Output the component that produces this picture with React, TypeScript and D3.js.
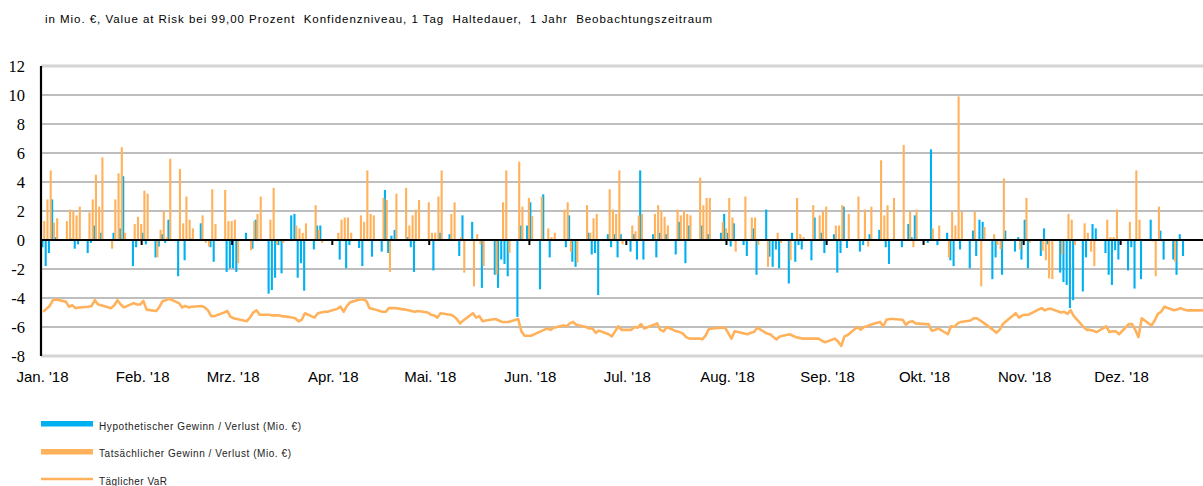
import * as d3 from "d3";
import { useEffect, useRef } from "react";

const TITLE =
  "in Mio. €, Value at Risk bei 99,00 Prozent  Konfidenzniveau, 1 Tag  Haltedauer,  1 Jahr  Beobachtungszeitraum";

const MONTH_LABELS = [
  "Jan. '18", "Feb. '18", "Mrz. '18", "Apr. '18", "Mai. '18", "Jun. '18",
  "Jul. '18", "Aug. '18", "Sep. '18", "Okt. '18", "Nov. '18", "Dez. '18",
];

const Y_TICKS = [-8, -6, -4, -2, 0, 2, 4, 6, 8, 10, 12];

const LEGEND = [
  "Hypothetischer Gewinn / Verlust (Mio. €)",
  "Tatsächlicher Gewinn / Verlust (Mio. €)",
  "Täglicher VaR",
];

// one value per weekday (Mon-Fri) of each month in 2018
const HYPOTHETICAL: number[][] = [
  [-0.5, -1.8, -0.9, 2.8, 0.2, 0, 0, 0.1, -0.6, -0.3, -0.9, -0.2, 1.0, 0, 0.5, 0, 0.5, 0, 0.8, 4.4, -1.8, -0.5, 0],
  [0.5, -0.3, -1.2, -0.45, 0.4, -0.2, 1.4, -2.5, 0, -1.4, 0, 0.1, 1.15, 0, 0, -0.5, -1.5, 0, -2.2, -1.95],
  [-1.95, -2.2, 0.5, 0, -0.6, 1.4, 0, -3.7, -3.45, -2.6, -0.35, -2.3, 1.7, 1.8, -2.6, -1.6, -3.5, -0.65, 1.0, 1.0, 0, 0],
  [0, -1.35, 0, -1.95, -0.35, -0.55, -1.8, 0, 0, -1.15, -0.8, 3.45, -0.9, 0.3, 0.7, 0, 0.2, -0.5, -2.2, 0, 0],
  [0, -2.1, 0, 0.5, 0.4, 0, 0, -1.1, 1.7, 1.25, 0, 0, -3.3, 0, -2.4, -3.3, -1.35, -1.65, -2.5, -5.3, 1.0, 0, 1.0],
  [2.6, -3.4, 3.15, 0, -1.2, 0, 0, -0.5, 1.7, -1.5, -1.85, 0, 0.5, -1.0, -0.9, -3.8, 0.4, -0.5, 0.4, -1.2, 0.4],
  [-0.8, 0.4, -1.35, 4.8, -1.35, 0.4, -1.2, 0.5, 0, 0.4, -1.0, 1.25, 0, -1.6, 1.0, 0, 1.0, 0, 0.4, 0, 0.5, 1.8],
  [0.5, -0.45, 1.15, -0.35, -1.1, 0, 0.8, -2.4, 2.1, -1.15, -1.85, -0.65, -1.95, -3.0, 0.5, -1.5, -0.35, -0.65, -1.4, 1.55, 0, 0.5, -0.9],
  [0.4, -2.25, -0.9, 2.3, -0.55, 0, -0.8, -0.35, 0, 0.4, 0.7, 0, -0.5, -1.65, 0, -0.5, 0, 1.1, 0.2, 1.7],
  [0, -0.2, 6.25, 0, -0.35, 0.5, -1.4, -1.8, 0, -0.65, -1.95, 0.65, -1.1, 1.4, 1.25, -2.7, -1.2, 0, -2.4, 0.65, -0.8, 0.2, -1.35],
  [1.4, -1.95, 0, -1.1, 0.8, -0.3, 0, -2.25, -2.9, -3.1, -4.7, -4.15, -3.55, -1.2, 0, 1.1, 0.8, -0.9, -2.4, -3.1, -0.7, -1.35],
  [-2.1, -0.5, -3.35, 0, -2.7, 1.4, 0, 0, 0.65, -1.35, -1.35, -2.4, 0.4, -1.1, 0, 0, 0, 0, 0, 0, 0],
];

const ACTUAL: number[][] = [
  [1.3, 2.8, 4.8, 1.2, 1.5, 1.3, 2.1, 2.0, 1.7, 2.3, 1.9, 2.8, 4.5, 2.3, 5.7, -0.6, 2.8, 4.6, 6.4, 0.5, 1.1, 1.6, 1.1],
  [3.4, 3.2, -1.2, 0.7, 2.0, 0.2, 5.6, 4.9, 1.15, 3.0, 1.4, 0.8, 1.7, -0.2, -0.45, 3.5, 1.1, 3.45, 1.3, 1.3],
  [1.4, -1.6, 0, -0.7, 1.3, 1.8, 3.0, 1.4, 3.6, -0.3, 0, -0.2, 0, 1.0, 0.8, 0.5, 1.15, 2.4, 0.7, -0.2, 0, 0],
  [0.5, 1.4, 1.55, 1.55, 0.5, 1.7, 1.25, 4.8, 1.8, 1.7, 2.9, 2.75, -2.2, 0, 3.2, 3.6, 1.0, 1.7, 2.1, 2.75, 2.6],
  [0.5, 0.5, 3.0, 4.8, 1.8, 2.6, 0, 0.2, -2.25, -3.2, 0.4, -0.3, -1.8, 0, -2.4, 0, 2.6, 4.8, -0.9, 5.4, 2.3, 0, 2.9],
  [1.65, 3.0, 0, 0.8, 0.2, 0.5, 2.1, 2.6, -0.8, 0, -1.55, 2.4, 0.5, 1.5, 1.8, 0, 3.5, 2.1, 1.8, 4.8, -0.3],
  [1.0, 0.6, 1.7, 1.8, 0, 1.8, 2.4, 2.0, 1.6, 1.0, 2.1, 1.7, 2.0, 1.8, 1.7, 4.3, 2.4, 2.9, 2.9, 0, 1.25, 0.8],
  [2.9, 1.55, -0.8, 3.0, 0, 1.55, 1.55, -0.35, -1.85, 0, 0, 0.5, -0.2, -1.4, 0, 2.9, 0.4, 0.2, 2.4, 0, 1.7, 1.95, 2.3],
  [1.0, 1.0, 2.4, 0, 1.8, 3.0, 0, 2.1, -0.45, 2.3, 5.5, 1.7, 2.4, 0, 2.9, 6.55, 0, 1.95, -0.5, 2.1],
  [0, 0, 0.8, 0, 1.0, -1.2, 1.95, 1.0, 9.9, 1.95, 0, 1.95, 0, -3.2, 0.9, 0.4, -0.35, -0.65, 4.25, 0, 0, -0.65, 0],
  [2.9, -0.2, 0, -0.75, -1.4, -2.65, -2.7, -1.0, 0, 1.8, 1.4, -0.35, 1.15, 0.5, -0.8, -1.8, 0, 1.4, 0.2, 0.2, 2.1, 0],
  [1.25, 0, 4.8, 1.4, 0, -0.1, -2.5, 2.3, -0.1, 0, -1.5, 0, 0, 0, 0, 0, 0, 0, 0, 0, 0],
];

const DAILY_VAR: number[][] = [
  [-4.95, -4.75, -4.55, -4.15, -4.1, -4.25, -4.6, -4.5, -4.7, -4.65, -4.6, -4.55, -4.15, -4.45, -4.5, -4.7, -4.5, -4.15, -4.45, -4.65, -4.35, -4.45, -4.45],
  [-4.2, -4.8, -4.9, -4.6, -4.2, -4.15, -4.05, -4.35, -4.65, -4.55, -4.65, -4.6, -4.55, -4.65, -4.85, -5.25, -5.25, -5.0, -4.9, -5.3],
  [-5.4, -5.45, -5.6, -5.35, -5.0, -4.85, -5.15, -5.15, -5.2, -5.2, -5.2, -5.25, -5.35, -5.4, -5.6, -5.5, -5.05, -5.35, -5.05, -5.0, -4.95, -4.95],
  [-4.75, -4.6, -4.95, -4.55, -4.3, -4.1, -4.1, -4.2, -4.7, -4.75, -4.95, -4.95, -4.7, -4.7, -4.7, -4.8, -4.85, -4.9, -4.95, -4.9, -5.0],
  [-5.15, -5.2, -5.35, -5.05, -5.15, -5.25, -5.45, -5.75, -5.55, -5.05, -5.35, -5.25, -5.6, -5.55, -5.45, -5.55, -5.65, -5.65, -5.65, -5.45, -6.3, -6.6, -6.6],
  [-6.6, -6.3, -6.2, -6.1, -6.2, -6.05, -5.9, -5.95, -5.75, -5.65, -5.85, -6.0, -6.1, -6.1, -6.4, -6.25, -6.5, -6.65, -6.3, -5.95, -6.2],
  [-6.2, -6.0, -6.05, -5.8, -6.1, -5.85, -5.75, -6.2, -6.3, -6.0, -6.3, -6.35, -6.45, -6.7, -6.8, -6.8, -6.85, -6.6, -6.15, -6.1, -6.05, -6.05],
  [-6.4, -6.8, -6.3, -6.45, -6.5, -6.4, -6.35, -6.05, -6.45, -6.5, -6.7, -6.85, -6.65, -6.5, -6.6, -6.7, -6.75, -6.8, -6.8, -6.8, -6.8, -6.95, -7.05],
  [-6.8, -7.0, -7.3, -6.65, -6.55, -6.0, -6.2, -6.0, -5.95, -5.85, -5.65, -5.95, -5.5, -5.45, -5.45, -5.5, -5.85, -5.65, -5.6, -5.75],
  [-5.8, -5.8, -6.25, -6.2, -6.1, -6.5, -5.95, -6.0, -5.75, -5.65, -5.55, -5.4, -5.4, -5.55, -5.7, -6.2, -6.4, -6.2, -5.8, -5.6, -5.05, -5.35, -5.2],
  [-5.15, -5.15, -4.8, -4.7, -4.85, -4.75, -4.75, -5.0, -4.95, -5.1, -4.85, -5.25, -6.0, -6.2, -6.2, -6.25, -6.35, -5.95, -6.35, -6.3, -6.3, -6.5],
  [-5.8, -5.8, -6.2, -6.7, -5.4, -5.9, -5.55, -5.1, -4.95, -4.6, -4.85, -4.8, -4.7, -4.8, -4.85, -4.85, -4.85, -4.85, -4.85, -4.85, -4.85],
];

const BLUE = "#00B0F0";
const ORANGE = "#FFB25B";

interface Day {
  date: Date;
  hypo: number;
  actual: number;
  risk: number;
}

export default function App() {
  const svgRef = useRef<SVGSVGElement>(null);
  const width = 1203;
  const height = 486;

  useEffect(() => {
    if (!svgRef.current) return;
    const svg = d3.select(svgRef.current);
    svg.selectAll("*").remove();

    // weekdays of 2018, paired with the monthly value lists
    const start = new Date(2018, 0, 1);
    const end = new Date(2019, 0, 1);
    const counter = new Array(12).fill(0);
    const days: Day[] = d3
      .timeDay.range(start, end)
      .filter((d) => d.getDay() !== 0 && d.getDay() !== 6)
      .map((date) => {
        const m = date.getMonth();
        const i = counter[m]++;
        return {
          date,
          hypo: HYPOTHETICAL[m][i] ?? 0,
          actual: ACTUAL[m][i] ?? 0,
          risk: DAILY_VAR[m][i] ?? DAILY_VAR[m][DAILY_VAR[m].length - 1],
        };
      });

    const left = 41;
    const x = d3.scaleTime().domain([start, end]).range([41.5, 41.5 + 365 * 3.231]);
    const y = d3.scaleLinear().domain([-8, 12]).range([356, 66]);

    // Grid lines
    svg
      .append("g")
      .selectAll("line")
      .data(Y_TICKS)
      .enter()
      .append("line")
      .attr("x1", left)
      .attr("x2", width)
      .attr("y1", (d) => y(d))
      .attr("y2", (d) => y(d))
      .style("stroke", (d) => (d === 12 || d === -8 ? "#d4d4d4" : "#a9a9a9"))
      .style("stroke-width", (d) => (d === 12 || d === -8 ? 3 : 1.6));

    // Y labels
    svg
      .append("g")
      .selectAll("text")
      .data(Y_TICKS)
      .enter()
      .append("text")
      .attr("x", 25)
      .attr("y", (d) => y(d) + 6)
      .attr("text-anchor", "end")
      .style("font-family", "'Liberation Serif', 'DejaVu Serif', serif")
      .style("font-size", "16.5px")
      .style("fill", "#000")
      .text((d) => String(d));

    // Bars
    const barW = 2.1;
    const bars = svg.append("g");
    bars
      .selectAll(".hypo")
      .data(days.filter((d) => d.hypo !== 0))
      .enter()
      .append("rect")
      .attr("x", (d) => x(d.date) - 0.1)
      .attr("width", barW)
      .attr("y", (d) => y(Math.max(0, d.hypo)))
      .attr("height", (d) => Math.abs(y(d.hypo) - y(0)))
      .style("fill", BLUE);
    bars
      .selectAll(".actual")
      .data(days.filter((d) => d.actual !== 0))
      .enter()
      .append("rect")
      .attr("x", (d) => x(d.date) + 1.7)
      .attr("width", barW)
      .attr("y", (d) => y(Math.max(0, d.actual)))
      .attr("height", (d) => Math.abs(y(d.actual) - y(0)))
      .style("fill", ORANGE);

    // Zero line and month ticks
    svg
      .append("line")
      .attr("x1", left)
      .attr("x2", width)
      .attr("y1", y(0))
      .attr("y2", y(0))
      .style("stroke", "#000")
      .style("stroke-width", 2);

    const months = d3.timeMonth.range(start, end);
    svg
      .append("g")
      .selectAll("line")
      .data(months.slice(1))
      .enter()
      .append("line")
      .attr("x1", (d) => x(d))
      .attr("x2", (d) => x(d))
      .attr("y1", y(0))
      .attr("y2", y(0) + 5)
      .style("stroke", "#000")
      .style("stroke-width", 2);

    // Y axis line
    svg
      .append("line")
      .attr("x1", left)
      .attr("x2", left)
      .attr("y1", y(12))
      .attr("y2", y(-8))
      .style("stroke", "#000")
      .style("stroke-width", 2.2);

    // VaR line
    const line = d3
      .line<Day>()
      .x((d) => x(d.date) + 1.7)
      .y((d) => y(d.risk));
    svg
      .append("path")
      .datum(days)
      .attr("d", line)
      .style("fill", "none")
      .style("stroke", ORANGE)
      .style("stroke-width", 2.6)
      .style("stroke-linejoin", "round");

    // Month labels
    svg
      .append("g")
      .selectAll("text")
      .data(months)
      .enter()
      .append("text")
      .attr("x", (d) => x(d) + 1)
      .attr("y", 382)
      .attr("text-anchor", "middle")
      .style("font-family", "'Liberation Sans', Arial, sans-serif")
      .style("font-size", "15px")
      .style("fill", "#000")
      .text((_, i) => MONTH_LABELS[i]);

    // Title
    svg
      .append("text")
      .attr("x", 45)
      .attr("y", 23)
      .attr("textLength", 667)
      .attr("lengthAdjust", "spacing")
      .style("white-space", "pre")
      .style("font-family", "'Liberation Sans', Arial, sans-serif")
      .style("font-size", "11.5px")
      .style("fill", "#000")
      .text(TITLE);

    // Legend
    const legend = svg.append("g").attr("transform", "translate(41, 0)");
    legend.append("rect").attr("x", 0).attr("y", 421).attr("width", 52).attr("height", 5.5).style("fill", BLUE);
    legend.append("rect").attr("x", 0).attr("y", 449).attr("width", 52).attr("height", 5.5).style("fill", ORANGE);
    legend
      .append("line")
      .attr("x1", 0)
      .attr("x2", 52)
      .attr("y1", 479)
      .attr("y2", 479)
      .style("stroke", ORANGE)
      .style("stroke-width", 2.5);
    const legendY = [430, 457, 485];
    const legendW = [202, 192, 68];
    legend
      .selectAll(".legend-text")
      .data(LEGEND)
      .enter()
      .append("text")
      .attr("x", 58)
      .attr("y", (_, i) => legendY[i])
      .attr("textLength", (_, i) => legendW[i])
      .attr("lengthAdjust", "spacing")
      .style("font-family", "'Liberation Sans', Arial, sans-serif")
      .style("font-size", "10px")
      .style("fill", "#222")
      .text((d) => d);
  }, []);

  return (
    <svg
      ref={svgRef}
      width={width}
      height={height}
      style={{ position: "absolute", left: 0, top: 0, display: "block", background: "#fff" }}
    />
  );
}
